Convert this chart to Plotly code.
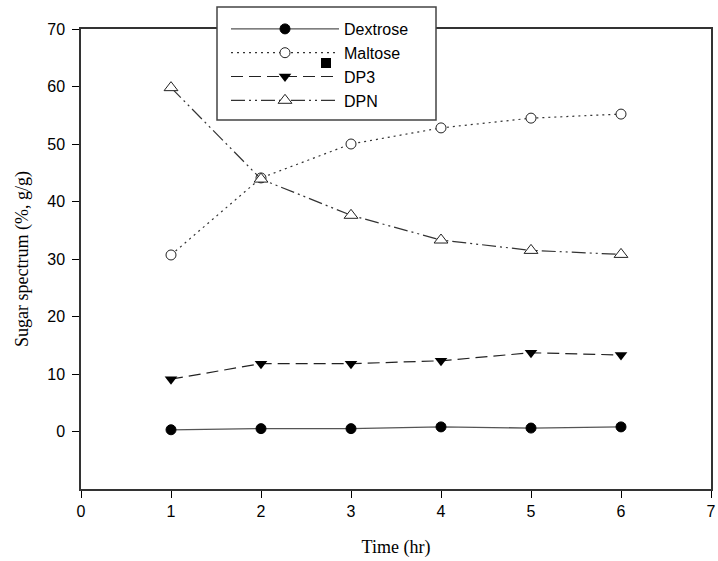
import plotly.graph_objects as go

time_hr = [1, 2, 3, 4, 5, 6]
dextrose = [0.3, 0.5, 0.5, 0.8, 0.6, 0.8]
maltose = [30.7, 44.1, 50.0, 52.8, 54.5, 55.2]
dp3 = [9.1, 11.8, 11.8, 12.3, 13.7, 13.3]
dpn = [59.8, 43.9, 37.6, 33.3, 31.5, 30.8]

x_ticks = [0, 1, 2, 3, 4, 5, 6, 7]
y_ticks = [0, 10, 20, 30, 40, 50, 60, 70]

FW, FH = 718, 561
PL, PR, PT, PB = 81, 711, 29, 489
W, H = PR - PL, PB - PT

def px(x):
    return (x - PL) / W

def py(y):
    return (PB - y) / H

fig = go.Figure()
fig.add_trace(go.Scatter(x=time_hr, y=dextrose, name="Dextrose", mode="lines+markers",
                         line=dict(color="#555555", width=1.3, dash="solid"),
                         marker=dict(symbol="circle", size=10, color="black",
                                     line=dict(color="black", width=1))))
fig.add_trace(go.Scatter(x=time_hr, y=maltose, name="Maltose", mode="lines+markers",
                         line=dict(color="#333333", width=1.2, dash="2px,4px"),
                         marker=dict(symbol="circle", size=10, color="white",
                                     line=dict(color="#222222", width=1))))
fig.add_trace(go.Scatter(x=time_hr, y=dp3, name="DP3", mode="lines+markers",
                         line=dict(color="#222222", width=1.2, dash="12px,6px"),
                         marker=dict(symbol="triangle-down", size=11, color="black")))
fig.add_trace(go.Scatter(x=time_hr, y=dpn, name="DPN", mode="lines+markers",
                         line=dict(color="#333333", width=1.2, dash="14px,4px,2px,4px,2px,4px"),
                         marker=dict(symbol="triangle-up", size=12, color="white",
                                     line=dict(color="#222222", width=1))))

fig.update_layout(
    width=FW, height=FH,
    margin=dict(l=PL, r=FW - PR, t=PT, b=FH - PB, autoexpand=False),
    paper_bgcolor="white", plot_bgcolor="white",
    font=dict(family="Liberation Sans, Arial, sans-serif", color="black", size=16),
    showlegend=True,
    legend=dict(x=px(226), y=py(12), xanchor="left", yanchor="top",
                bgcolor="rgba(0,0,0,0)", borderwidth=0,
                font=dict(family="Liberation Sans, Arial, sans-serif", size=16, color="black"),
                itemwidth=108, tracegroupgap=0, itemsizing="trace"),
    xaxis=dict(range=[0, 7], tickvals=x_ticks, ticks="outside", ticklen=7, tickwidth=1,
               tickcolor="black", showline=True, linecolor="#333333", linewidth=1.5,
               mirror=True, showgrid=False, zeroline=False, automargin=False,
               tickfont=dict(family="Liberation Sans, Arial, sans-serif", size=16),
               title=dict(text="Time (hr)", standoff=21,
                          font=dict(family="Liberation Serif, Times New Roman, serif", size=18))),
    yaxis=dict(range=[-10, 70], tickvals=y_ticks, ticks="outside", ticklen=7, tickwidth=1,
               tickcolor="black", showline=True, linecolor="#333333", linewidth=1.5,
               mirror=True, showgrid=False, zeroline=False, automargin=False,
               ticklabelstandoff=4,
               tickfont=dict(family="Liberation Sans, Arial, sans-serif", size=16),
               title=dict(text="Sugar spectrum (%, g/g)", standoff=14,
                          font=dict(family="Liberation Serif, Times New Roman, serif", size=18))),
    shapes=[
        dict(type="rect", xref="paper", yref="paper",
             x0=px(217), x1=px(436), y0=py(120), y1=py(7),
             fillcolor="white", line=dict(color="#444444", width=1.5), layer="above"),
        dict(type="rect", xref="paper", yref="paper",
             x0=px(321), x1=px(331), y0=py(68), y1=py(58),
             fillcolor="black", line=dict(width=0), layer="above"),
    ],
)

fig.write_html("out.html",
               config={"displayModeBar": False},
               post_script="document.body.style.margin='0';document.body.style.overflow='hidden';")
